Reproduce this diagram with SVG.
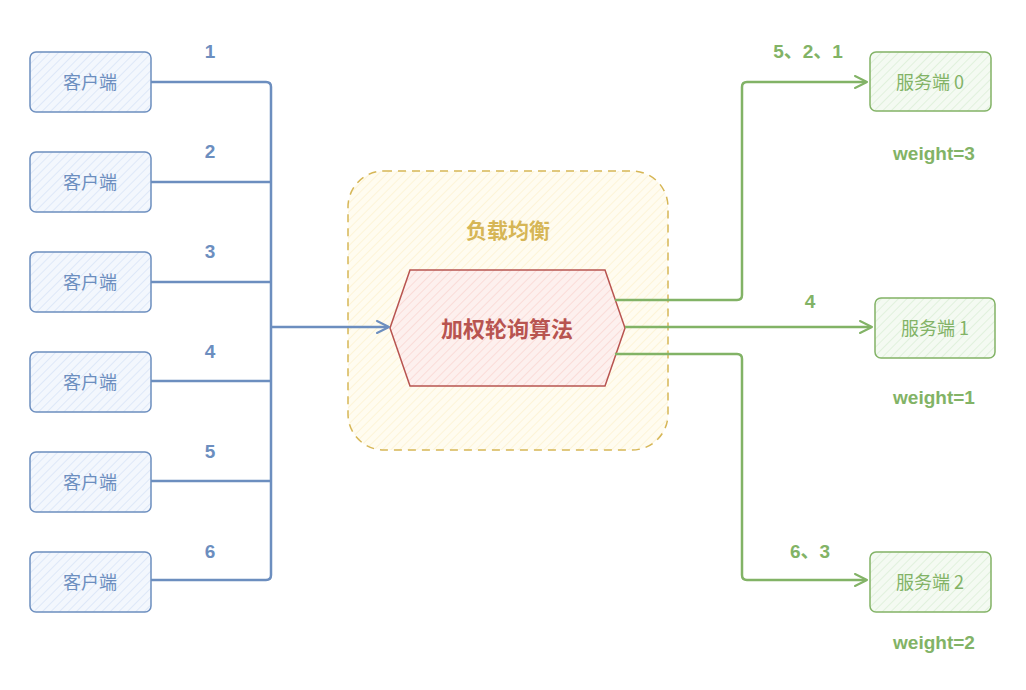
<svg xmlns="http://www.w3.org/2000/svg" width="1026" height="690" viewBox="0 0 1026 690">
<defs>
<pattern id="hBlue" width="6" height="6" patternUnits="userSpaceOnUse" patternTransform="rotate(45)">
<rect width="6" height="6" fill="#f3f7fd"/><line x1="0" y1="0" x2="0" y2="6" stroke="#c9daf3" stroke-width="1"/></pattern>
<pattern id="hGreen" width="6" height="6" patternUnits="userSpaceOnUse" patternTransform="rotate(45)">
<rect width="6" height="6" fill="#f4faf2"/><line x1="0" y1="0" x2="0" y2="6" stroke="#cfe8c8" stroke-width="1"/></pattern>
<pattern id="hYellow" width="6" height="6" patternUnits="userSpaceOnUse" patternTransform="rotate(45)">
<rect width="6" height="6" fill="#fffcf0"/><line x1="0" y1="0" x2="0" y2="6" stroke="#fdf0c8" stroke-width="1.2"/></pattern>
<pattern id="hRed" width="6" height="6" patternUnits="userSpaceOnUse" patternTransform="rotate(45)">
<rect width="6" height="6" fill="#fdf0ee"/><line x1="0" y1="0" x2="0" y2="6" stroke="#f8cfc9" stroke-width="1.2"/></pattern>
<marker id="arrB" markerWidth="14" markerHeight="14" refX="12" refY="7" orient="auto" markerUnits="userSpaceOnUse">
<path d="M1,1 L13,7 L1,13 M5,7 L13,7" fill="none" stroke="#6c8ebf" stroke-width="2" stroke-linecap="round" stroke-linejoin="round"/></marker>
<marker id="arrG" markerWidth="14" markerHeight="14" refX="12" refY="7" orient="auto" markerUnits="userSpaceOnUse">
<path d="M1,1 L13,7 L1,13 M5,7 L13,7" fill="none" stroke="#82b366" stroke-width="2" stroke-linecap="round" stroke-linejoin="round"/></marker>
</defs>
<style>
.client rect{fill:url(#hBlue);stroke:#6c8ebf;stroke-width:1.5}
.server rect{fill:url(#hGreen);stroke:#82b366;stroke-width:1.5}
.ct{font-family:"Noto Sans CJK SC","Liberation Sans",sans-serif;font-size:18px;fill:#6c8ebf;text-anchor:middle}
.st{font-family:"Noto Sans CJK SC","Liberation Sans",sans-serif;font-size:18px;fill:#82b366;text-anchor:middle}
.lb{font-family:"Liberation Sans","Noto Sans CJK SC",sans-serif;font-size:19px;font-weight:bold;fill:#6c8ebf;text-anchor:middle}
.lg{font-family:"Liberation Sans","Noto Sans CJK SC",sans-serif;font-size:19px;font-weight:bold;fill:#82b366;text-anchor:middle}
.cb{fill:none;stroke:#6c8ebf;stroke-width:2.5;stroke-linejoin:round}
.cg{fill:none;stroke:#82b366;stroke-width:2.5;stroke-linejoin:round}
</style>
<g id="lb-group">
<rect x="348" y="171" width="320" height="279" rx="36" fill="url(#hYellow)" stroke="#d6b656" stroke-width="1.5" stroke-dasharray="8 6"/>
<text x="508" y="238" font-family="Noto Sans CJK SC,sans-serif" font-size="21" font-weight="bold" fill="#d6b656" text-anchor="middle">负载均衡</text>
</g>
<g id="algo">
<polygon points="390,328 410,270 605,270 625,328 605,386 410,386" fill="url(#hRed)" stroke="#b85450" stroke-width="1.5"/>
<text x="507" y="337" font-family="Noto Sans CJK SC,sans-serif" font-size="22" font-weight="bold" fill="#b85450" text-anchor="middle">加权轮询算法</text>
</g>
<g id="connectors">
<path class="cb" d="M151,82 H266 Q271,82 271,87 V575 Q271,580 266,580 H151"/>
<path class="cb" d="M151,182 H271 M151,282 H271 M151,381 H271 M151,481 H271"/>
<path class="cb" d="M271,327 H388" stroke-width="3" marker-end="url(#arrB)"/>
<path class="cg" d="M615,300 H737 Q742,300 742,295 V87 Q742,82 747,82 H866" marker-end="url(#arrG)"/>
<path class="cg" d="M625,327 H871" marker-end="url(#arrG)"/>
<path class="cg" d="M615,354 H737 Q742,354 742,359 V575 Q742,580 747,580 H866" marker-end="url(#arrG)"/>
</g>
<g id="client1" class="client"><rect x="30" y="52" width="121" height="60" rx="6"/><text class="ct" x="90" y="89">客户端</text></g>
<g id="client2" class="client"><rect x="30" y="152" width="121" height="60" rx="6"/><text class="ct" x="90" y="189">客户端</text></g>
<g id="client3" class="client"><rect x="30" y="252" width="121" height="60" rx="6"/><text class="ct" x="90" y="289">客户端</text></g>
<g id="client4" class="client"><rect x="30" y="352" width="121" height="60" rx="6"/><text class="ct" x="90" y="389">客户端</text></g>
<g id="client5" class="client"><rect x="30" y="452" width="121" height="60" rx="6"/><text class="ct" x="90" y="489">客户端</text></g>
<g id="client6" class="client"><rect x="30" y="552" width="121" height="60" rx="6"/><text class="ct" x="90" y="589">客户端</text></g>
<g id="labels-left">
<text class="lb" x="210" y="58">1</text>
<text class="lb" x="210" y="158">2</text>
<text class="lb" x="210" y="258">3</text>
<text class="lb" x="210" y="358">4</text>
<text class="lb" x="210" y="458">5</text>
<text class="lb" x="210" y="558">6</text>
</g>
<g id="server0" class="server"><rect x="870" y="52" width="121" height="59" rx="6"/><text class="st" x="930" y="89">服务端 0</text></g>
<g id="server1" class="server"><rect x="875" y="298" width="120" height="60" rx="6"/><text class="st" x="935" y="335">服务端 1</text></g>
<g id="server2" class="server"><rect x="870" y="552" width="121" height="60" rx="6"/><text class="st" x="930" y="589">服务端 2</text></g>
<g id="labels-right">
<text class="lg" x="808" y="58">5、2、1</text>
<text class="lg" x="810" y="308">4</text>
<text class="lg" x="810" y="558">6、3</text>
<text class="lg" x="934" y="160">weight=3</text>
<text class="lg" x="934" y="404">weight=1</text>
<text class="lg" x="934" y="649">weight=2</text>
</g>
</svg>
